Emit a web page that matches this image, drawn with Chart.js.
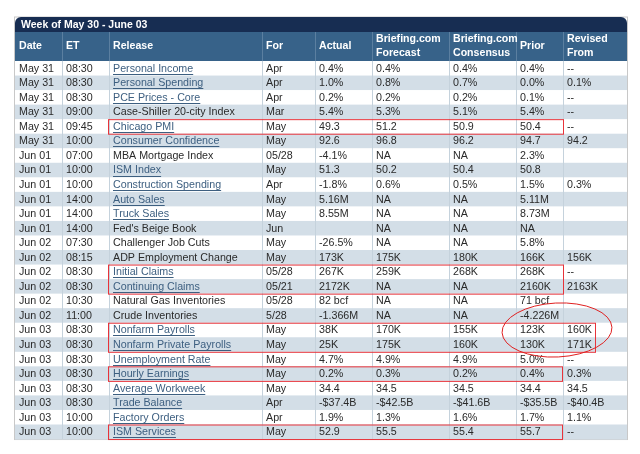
<!DOCTYPE html>
<html><head><meta charset="utf-8">
<script src="https://cdn.jsdelivr.net/npm/chart.js@4"></script>
<style>html,body{margin:0;padding:0;background:#fff}</style>
</head><body>
<canvas id="c" width="640" height="454"></canvas>
<script>
const title = "Week of May 30 - June 03";
const headers = [["Date"],["ET"],["Release"],["For"],["Actual"],["Briefing.com","Forecast"],["Briefing.com","Consensus"],["Prior"],["Revised","From"]];
const dates = ["May 31","May 31","May 31","May 31","May 31","May 31","Jun 01","Jun 01","Jun 01","Jun 01","Jun 01","Jun 01","Jun 02","Jun 02","Jun 02","Jun 02","Jun 02","Jun 02","Jun 03","Jun 03","Jun 03","Jun 03","Jun 03","Jun 03","Jun 03","Jun 03"];
const times = ["08:30","08:30","08:30","09:00","09:45","10:00","07:00","10:00","10:00","14:00","14:00","14:00","07:30","08:15","08:30","08:30","10:30","11:00","08:30","08:30","08:30","08:30","08:30","08:30","10:00","10:00"];
const releases = ["Personal Income","Personal Spending","PCE Prices - Core","Case-Shiller 20-city Index","Chicago PMI","Consumer Confidence","MBA Mortgage Index","ISM Index","Construction Spending","Auto Sales","Truck Sales","Fed's Beige Book","Challenger Job Cuts","ADP Employment Change","Initial Claims","Continuing Claims","Natural Gas Inventories","Crude Inventories","Nonfarm Payrolls","Nonfarm Private Payrolls","Unemployment Rate","Hourly Earnings","Average Workweek","Trade Balance","Factory Orders","ISM Services"];
const isLink = [1,1,1,0,1,1,0,1,1,1,1,0,0,0,1,1,0,0,1,1,1,1,1,1,1,1];
const forPeriod = ["Apr","Apr","Apr","Mar","May","May","05/28","May","Apr","May","May","Jun","May","May","05/28","05/21","05/28","5/28","May","May","May","May","May","Apr","Apr","May"];
const actual = ["0.4%","1.0%","0.2%","5.4%","49.3","92.6","-4.1%","51.3","-1.8%","5.16M","8.55M","","-26.5%","173K","267K","2172K","82 bcf","-1.366M","38K","25K","4.7%","0.2%","34.4","-$37.4B","1.9%","52.9"];
const forecast = ["0.4%","0.8%","0.2%","5.3%","51.2","96.8","NA","50.2","0.6%","NA","NA","NA","NA","175K","259K","NA","NA","NA","170K","175K","4.9%","0.3%","34.5","-$42.5B","1.3%","55.5"];
const consensus = ["0.4%","0.7%","0.2%","5.1%","50.9","96.2","NA","50.4","0.5%","NA","NA","NA","NA","180K","268K","NA","NA","NA","155K","160K","4.9%","0.2%","34.5","-$41.6B","1.6%","55.4"];
const prior = ["0.4%","0.0%","0.1%","5.4%","50.4","94.7","2.3%","50.8","1.5%","5.11M","8.73M","NA","5.8%","166K","268K","2160K","71 bcf","-4.226M","123K","130K","5.0%","0.4%","34.4","-$35.5B","1.7%","55.7"];
const revised = ["--","0.1%","--","--","--","94.2","","","0.3%","","","","","156K","--","2163K","","","160K","171K","--","0.3%","34.5","-$40.4B","1.1%","--"];
const colEdges = [15,62,109,262,315,372,449,516,563,627];
const boxes = [[4,4,108,563],[14,15,108,563],[18,19,108,595],[21,21,108,562],[25,25,108,562]];

const tablePlugin = {
  id:'table',
  afterDraw(chart){
    const ctx = chart.ctx, X = chart.scales.x, Y = chart.scales.y;
    const px = v=>X.getPixelForValue(v), py = v=>Y.getPixelForValue(v);
    const top=17, hTop=32, rTop=61, rh=14.54, n=dates.length;
    const left=colEdges[0], right=colEdges[colEdges.length-1];
    const bottom = rTop+rh*n;
    ctx.save();
    ctx.strokeStyle='#c8c8c8'; ctx.lineWidth=1;
    ctx.strokeRect(px(left)-0.5,py(top),px(right)-px(left)+1,py(bottom)-py(top)+0.5);
    ctx.fillStyle='#172d52';
    ctx.beginPath();
    ctx.roundRect(px(left),py(top),px(right)-px(left),py(hTop)-py(top),[6,6,0,0]);
    ctx.fill();
    ctx.fillStyle='#fff'; ctx.font='bold 10.5px "Liberation Sans", Arial'; ctx.textBaseline='middle';
    ctx.fillText(title,px(left)+6,py((top+hTop)/2)+1);
    ctx.fillStyle='#376289';
    ctx.fillRect(px(left),py(hTop),px(right)-px(left),py(rTop)-py(hTop));
    ctx.strokeStyle='#5b7fa0';
    for(let i=1;i<colEdges.length-1;i++){ctx.beginPath();ctx.moveTo(px(colEdges[i])+0.5,py(hTop));ctx.lineTo(px(colEdges[i])+0.5,py(rTop));ctx.stroke();}
    ctx.fillStyle='#fff'; ctx.font='bold 10.6px "Liberation Sans", Arial';
    headers.forEach((h,i)=>{
      const x=px(colEdges[i])+4, cy=(hTop+rTop)/2;
      if(h.length===1) ctx.fillText(h[0],x,py(cy));
      else {ctx.fillText(h[0],x,py(cy-7));ctx.fillText(h[1],x,py(cy+7));}
    });
    const cols=[dates,times,releases,forPeriod,actual,forecast,consensus,prior,revised];
    for(let r=0;r<n;r++){
      const y0=rTop+r*rh;
      ctx.fillStyle = r%2 ? '#d3dee7' : '#ffffff';
      ctx.fillRect(px(left),py(y0),px(right)-px(left),py(y0+rh)-py(y0)+0.5);
    }
    ctx.strokeStyle='#c5d2dc';
    for(let i=1;i<colEdges.length-1;i++){ctx.beginPath();ctx.moveTo(px(colEdges[i])+0.5,py(rTop));ctx.lineTo(px(colEdges[i])+0.5,py(bottom));ctx.stroke();}
    ctx.font='10.7px "Liberation Sans", Arial';
    for(let r=0;r<n;r++){
      const cy=py(rTop+r*rh+rh/2)+0.5;
      cols.forEach((col,i)=>{
        const t=col[r]; if(!t) return;
        const x=px(colEdges[i])+4;
        const link = i===2 && isLink[r];
        ctx.fillStyle = link ? '#3d5f80' : '#2a2a2a';
        ctx.fillText(t,x,cy);
        if(link){
          const w=ctx.measureText(t).width;
          ctx.strokeStyle='#3d5f80'; ctx.beginPath(); ctx.moveTo(x,Math.round(cy)+5.5); ctx.lineTo(x+w,Math.round(cy)+5.5); ctx.stroke();
        }
      });
    }
    ctx.strokeStyle='#e8333a'; ctx.lineWidth=1;
    boxes.forEach(b=>{
      const y0=rTop+b[0]*rh, y1=rTop+(b[1]+1)*rh;
      ctx.strokeRect(px(b[2])+0.5,py(y0)+0.5,px(b[3])-px(b[2]),py(y1)-py(y0));
    });
    ctx.strokeStyle='#e02020';
    ctx.beginPath();
    ctx.ellipse(px(557),py(330),55,27,-0.05,0,Math.PI*2);
    ctx.stroke();
    ctx.restore();
  }
};

new Chart(document.getElementById('c'),{
  type:'scatter',
  data:{datasets:[{data:[]}]},
  options:{
    responsive:false, animation:false, devicePixelRatio:1,
    layout:{padding:0},
    plugins:{legend:{display:false},tooltip:{enabled:false}},
    scales:{
      x:{type:'linear',min:0,max:640,display:false},
      y:{type:'linear',min:0,max:454,reverse:true,display:false}
    }
  },
  plugins:[tablePlugin]
});
</script>
</body></html>
